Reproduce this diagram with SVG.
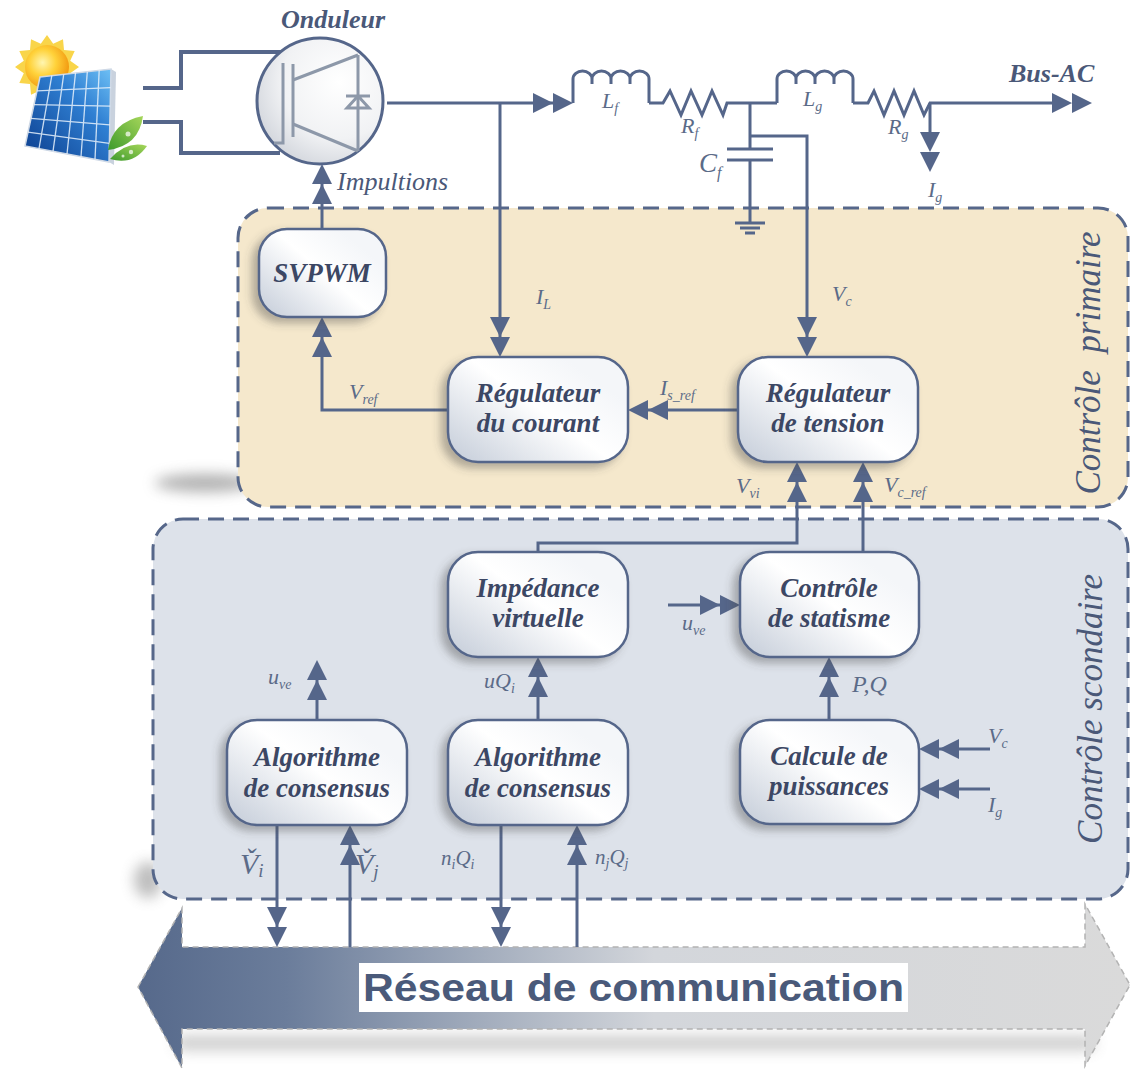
<svg xmlns="http://www.w3.org/2000/svg" width="1132" height="1070" viewBox="0 0 1132 1070">
<defs>
<style>
.zone{stroke:#56678a;stroke-width:3;stroke-dasharray:16 9}
.wire{fill:none;stroke:#55668a;stroke-width:3;stroke-linejoin:miter}
.dc{fill:none;stroke:#55668a;stroke-width:4}
.igbt{fill:none;stroke:#8d98a9;stroke-width:3}
.node rect{fill:url(#nodeFill);stroke:#55668a;stroke-width:2.5;filter:url(#nodeShadow)}
.node text{font-family:'Liberation Serif',serif;font-weight:bold;font-style:italic;font-size:27px;fill:#3c4764;text-anchor:middle}
.head{font-family:'Liberation Serif',serif;font-weight:bold;font-style:italic;font-size:26px;fill:#4a5878}
.imp{font-family:'Liberation Serif',serif;font-style:italic;font-size:26px;fill:#4a5878}
.side{font-family:'Liberation Serif',serif;font-style:italic;font-size:35px;fill:#4a5878;text-anchor:middle;white-space:pre}
.m{font-family:'Liberation Serif',serif;font-style:italic;font-size:22px;fill:#5b6b88}
.s{font-size:14px}
.big{font-size:30px}
.bigs{font-size:19px}
.cf{font-size:27px}
.cfs{font-size:16px}
.pq{font-size:24px}
.nq{font-size:21px}
.ah{fill:#55668a}
.net{font-family:'Liberation Sans',Arial,sans-serif;font-weight:bold;font-size:38px;fill:#4a5a7a}
</style>
<linearGradient id="nodeFill" x1="0" y1="0.85" x2="0.8" y2="0.2">
<stop offset="0" stop-color="#cbd2dd"/>
<stop offset="0.6" stop-color="#ffffff"/>
<stop offset="1" stop-color="#f4f6f9"/>
</linearGradient>
<radialGradient id="invFill" cx="0.65" cy="0.35" r="0.75">
<stop offset="0" stop-color="#ffffff"/>
<stop offset="0.6" stop-color="#f1f2f4"/>
<stop offset="1" stop-color="#cfd3da"/>
</radialGradient>
<linearGradient id="netFill" x1="138" y1="0" x2="1130" y2="0" gradientUnits="userSpaceOnUse">
<stop offset="0" stop-color="#56698b"/>
<stop offset="0.15" stop-color="#6b7d9b"/>
<stop offset="0.35" stop-color="#a3adbd"/>
<stop offset="0.52" stop-color="#d3d6db"/>
<stop offset="1" stop-color="#dadada"/>
</linearGradient>
<radialGradient id="sunFill" cx="0.4" cy="0.4" r="0.6">
<stop offset="0" stop-color="#fff6b0"/>
<stop offset="0.5" stop-color="#ffd23a"/>
<stop offset="1" stop-color="#f39c12"/>
</radialGradient>
<linearGradient id="panelFill" x1="1" y1="0" x2="0" y2="1">
<stop offset="0" stop-color="#6ec0f5"/>
<stop offset="0.35" stop-color="#2f7fd2"/>
<stop offset="1" stop-color="#0b3c8c"/>
</linearGradient>
<linearGradient id="leafFill" x1="0" y1="1" x2="1" y2="0">
<stop offset="0" stop-color="#3d9a2c"/>
<stop offset="1" stop-color="#a6d65a"/>
</linearGradient>
<filter id="nodeShadow" x="-20%" y="-20%" width="140%" height="150%">
<feDropShadow dx="-6" dy="5" stdDeviation="4" flood-color="#4a4a4a" flood-opacity="0.4"/>
</filter>
<filter id="blur8" x="-50%" y="-200%" width="200%" height="500%">
<feGaussianBlur stdDeviation="7"/>
</filter>
<!-- double arrowhead, tip at origin, pointing down -->
<path id="ah2" d="M0,0 L-10,-20 L10,-20 Z M0,-20 L-10,-40 L10,-40 Z"/>
</defs>

<rect width="1132" height="1070" fill="#ffffff"/>

<!-- soft shadows under the control zones and the network bus -->
<ellipse cx="205" cy="483" rx="50" ry="9" fill="#6f6f6f" opacity="0.55" filter="url(#blur8)"/>
<ellipse cx="148" cy="880" rx="14" ry="18" fill="#6f6f6f" opacity="0.45" filter="url(#blur8)"/>
<rect x="175" y="1036" width="920" height="14" rx="7" fill="#8a8a8a" opacity="0.45" filter="url(#blur8)"/>

<!-- control zones -->
<g id="zone-primaire">
<rect class="zone" x="238" y="208" width="890" height="299" rx="30" fill="#f5e8cc"/>
<text class="side" transform="translate(1100,363) rotate(-90)">Contrôle  primaire</text>
</g>
<g id="zone-secondaire">
<rect class="zone" x="153" y="519" width="975" height="380" rx="30" fill="#dde2ea"/>
<text class="side" transform="translate(1102,709) rotate(-90)">Contrôle scondaire</text>
</g>

<!-- communication bus -->
<g id="reseau">
<path d="M138,987 L182,908 L182,947 L1085,947 L1085,904 L1130,985 L1085,1066 L1085,1029 L182,1029 L182,1068 Z" fill="url(#netFill)" stroke="#b3b3b3" stroke-width="1.5" stroke-dasharray="6 4"/>
<rect x="359" y="963" width="549" height="49" fill="#ffffff"/>
<text class="net" x="363" y="1001" textLength="541" lengthAdjust="spacingAndGlyphs">Réseau de communication</text>
</g>

<!-- PV source -->
<g id="pv">
<polygon fill="#f9d54a" points="79,67 70.2,73.2 74.7,83 64,84 63,94.7 53.2,90.2 47,99 40.8,90.2 31,94.7 30,84 19.3,83 23.8,73.2 15,67 23.8,60.8 19.3,51 30,50 31,39.3 40.8,43.8 47,35 53.2,43.8 63,39.3 64,50 74.7,51 70.2,60.8"/>
<circle cx="47" cy="67" r="22" fill="url(#sunFill)"/>
<polygon points="111,69 116,72 114,165 109,162" fill="#c9d2de"/>
<polygon points="40,77 111,69 109,162 25,146" fill="url(#panelFill)" stroke="#cfd9e6" stroke-width="1.5"/>
<g stroke="#e8f2fc" stroke-width="1.3" opacity="0.85">
<line x1="51.8" y1="75.7" x2="39" y2="148.7"/>
<line x1="63.7" y1="74.3" x2="53" y2="151.3"/>
<line x1="75.5" y1="73" x2="67" y2="154"/>
<line x1="87.3" y1="71.7" x2="81" y2="156.7"/>
<line x1="99.2" y1="70.3" x2="95" y2="159.3"/>
<line x1="37" y1="90.8" x2="110.6" y2="87.6"/>
<line x1="34" y1="104.6" x2="110.2" y2="106.2"/>
<line x1="31" y1="118.4" x2="109.8" y2="124.8"/>
<line x1="28" y1="132.2" x2="109.4" y2="143.4"/>
</g>
<path d="M108,150 Q112,122 143,116 Q139,146 108,150 Z" fill="url(#leafFill)"/>
<path d="M110,159 Q127,140 147,146 Q133,166 110,159 Z" fill="url(#leafFill)"/>
<circle cx="128" cy="134" r="2.5" fill="#ffffff" opacity="0.7"/>
<circle cx="131" cy="152" r="2.2" fill="#ffffff" opacity="0.7"/>
<circle cx="123" cy="156" r="1.5" fill="#ffffff" opacity="0.7"/>
</g>

<!-- DC link to the inverter -->
<path class="dc" d="M143,88 H181 V52 H282"/>
<path class="dc" d="M143,122 H181 V153 H280"/>

<!-- inverter -->
<g id="onduleur">
<circle cx="320" cy="101" r="63" fill="url(#invFill)" stroke="#55668a" stroke-width="3"/>
<path class="igbt" d="M283,63 V143 H274"/>
<path class="igbt" d="M293,64 V137"/>
<path class="igbt" d="M293,80 L358,55 M293,124 L358,151 M358,55 V151"/>
<path class="igbt" d="M346,96 H370 M358,96 L347,108 H369 Z" stroke-linejoin="miter"/>
<text class="head" x="333" y="28" text-anchor="middle">Onduleur</text>
<text class="imp" x="337" y="190">Impultions</text>
</g>

<!-- LC filter and AC bus -->
<g id="filtre-lc">
<path class="wire" d="M573,103 V79 a9.5,8 0 0 1 19,0 a9.5,8 0 0 1 19,0 a9.5,8 0 0 1 19,0 a9.5,8 0 0 1 19,0 V103"/>
<path class="wire" d="M592,79 v5 M611,79 v5 M630,79 v5"/>
<path class="wire" d="M649,103 H663 L670,91 L681,115 L691,91 L702,115 L712,91 L723,115 L727,103 H777"/>
<path class="wire" d="M777,103 V79 a9.5,8 0 0 1 19,0 a9.5,8 0 0 1 19,0 a9.5,8 0 0 1 19,0 a9.5,8 0 0 1 19,0 V103"/>
<path class="wire" d="M796,79 v5 M815,79 v5 M834,79 v5"/>
<path class="wire" d="M853,103 H868 L874,91 L884,115 L894,91 L904,115 L914,91 L924,115 L930,103 H1060"/>
<path class="wire" d="M750,103 V149 M727,149 H773 M727,160 H773 M750,160 V223 M735,223 H765 M740,228 H760 M745,233 H755"/>
<text class="head" x="1009" y="82">Bus-AC</text>
</g>

<!-- connectors -->
<g id="connecteurs">
<path class="wire" d="M387,103 H560"/>
<use href="#ah2" class="ah" transform="translate(573,103) rotate(-90)"/>
<use href="#ah2" class="ah" transform="translate(1092,103) rotate(-90)"/>
<path class="wire" d="M930,103 V140"/>
<use href="#ah2" class="ah" transform="translate(930,172)"/>
<path class="wire" d="M500,103 V340"/>
<use href="#ah2" class="ah" transform="translate(500,357)"/>
<path class="wire" d="M750,136 H807 V340"/>
<use href="#ah2" class="ah" transform="translate(807,357)"/>
<path class="wire" d="M738,410 H645"/>
<use href="#ah2" class="ah" transform="translate(628,410) rotate(90)"/>
<path class="wire" d="M448,410 H322 V335"/>
<use href="#ah2" class="ah" transform="translate(322,317) rotate(180)"/>
<path class="wire" d="M322,229 V180"/>
<use href="#ah2" class="ah" transform="translate(322,164) rotate(180)"/>
<path class="wire" d="M538,552 V543 H797 V480"/>
<use href="#ah2" class="ah" transform="translate(797,462) rotate(180)"/>
<path class="wire" d="M863,552 V480"/>
<use href="#ah2" class="ah" transform="translate(863,462) rotate(180)"/>
<path class="wire" d="M668,605 H720"/>
<use href="#ah2" class="ah" transform="translate(740,605) rotate(-90)"/>
<path class="wire" d="M829,720 V675"/>
<use href="#ah2" class="ah" transform="translate(829,657) rotate(180)"/>
<path class="wire" d="M990,749 H935"/>
<use href="#ah2" class="ah" transform="translate(919,749) rotate(90)"/>
<path class="wire" d="M990,789 H935"/>
<use href="#ah2" class="ah" transform="translate(919,789) rotate(90)"/>
<path class="wire" d="M538,720 V675"/>
<use href="#ah2" class="ah" transform="translate(538,657) rotate(180)"/>
<path class="wire" d="M317,720 V680"/>
<use href="#ah2" class="ah" transform="translate(317,660) rotate(180)"/>
<path class="wire" d="M277,825 V930"/>
<use href="#ah2" class="ah" transform="translate(277,947)"/>
<path class="wire" d="M350,947 V845"/>
<use href="#ah2" class="ah" transform="translate(350,825) rotate(180)"/>
<path class="wire" d="M501,825 V930"/>
<use href="#ah2" class="ah" transform="translate(501,947)"/>
<path class="wire" d="M577,947 V845"/>
<use href="#ah2" class="ah" transform="translate(577,825) rotate(180)"/>
</g>

<!-- control blocks -->
<g id="svpwm" class="node">
<rect x="259" y="229" width="127" height="88" rx="28"/>
<text x="322" y="282">SVPWM</text>
</g>
<g id="regulateur-courant" class="node">
<rect x="448" y="357" width="180" height="105" rx="30"/>
<text x="538" y="402">Régulateur</text>
<text x="538" y="432">du courant</text>
</g>
<g id="regulateur-tension" class="node">
<rect x="738" y="357" width="180" height="105" rx="30"/>
<text x="828" y="402">Régulateur</text>
<text x="828" y="432">de tension</text>
</g>
<g id="impedance-virtuelle" class="node">
<rect x="448" y="552" width="180" height="105" rx="30"/>
<text x="538" y="597">Impédance</text>
<text x="538" y="627">virtuelle</text>
</g>
<g id="controle-statisme" class="node">
<rect x="740" y="552" width="179" height="105" rx="30"/>
<text x="829" y="597">Contrôle</text>
<text x="829" y="627">de statisme</text>
</g>
<g id="consensus-tension" class="node">
<rect x="227" y="720" width="180" height="105" rx="30"/>
<text x="317" y="766">Algorithme</text>
<text x="317" y="797">de consensus</text>
</g>
<g id="consensus-reactif" class="node">
<rect x="448" y="720" width="180" height="105" rx="30"/>
<text x="538" y="766">Algorithme</text>
<text x="538" y="797">de consensus</text>
</g>
<g id="calcul-puissances" class="node">
<rect x="740" y="720" width="179" height="104" rx="30"/>
<text x="829" y="765">Calcule de</text>
<text x="829" y="795">puissances</text>
</g>

<!-- signal labels -->
<g id="labels">
<text class="m" x="602" y="108">L<tspan class="s" dy="5">f</tspan></text>
<text class="m" x="681" y="133">R<tspan class="s" dy="5">f</tspan></text>
<text class="m cf" x="699" y="172">C<tspan class="cfs" dy="6">f</tspan></text>
<text class="m" x="803" y="106">L<tspan class="s" dy="5">g</tspan></text>
<text class="m" x="888" y="134">R<tspan class="s" dy="5">g</tspan></text>
<text class="m" x="928" y="197">I<tspan class="s" dy="5">g</tspan></text>
<text class="m" x="536" y="304">I<tspan class="s" dy="5">L</tspan></text>
<text class="m" x="832" y="301">V<tspan class="s" dy="5">c</tspan></text>
<text class="m" x="349" y="399">V<tspan class="s" dy="5">ref</tspan></text>
<text class="m" x="660" y="395">I<tspan class="s" dy="5">s_ref</tspan></text>
<text class="m" x="736" y="493">V<tspan class="s" dy="5">vi</tspan></text>
<text class="m" x="884" y="492">V<tspan class="s" dy="5">c_ref</tspan></text>
<text class="m" x="682" y="630">u<tspan class="s" dy="5">ve</tspan></text>
<text class="m pq" x="852" y="692">P,Q</text>
<text class="m" x="988" y="743">V<tspan class="s" dy="5">c</tspan></text>
<text class="m" x="988" y="812">I<tspan class="s" dy="5">g</tspan></text>
<text class="m" x="268" y="684">u<tspan class="s" dy="5">ve</tspan></text>
<text class="m" x="484" y="688">uQ<tspan class="s" dy="5">i</tspan></text>
<text class="m big" x="240" y="874">V&#x30C;<tspan class="bigs" dy="3">i</tspan></text>
<text class="m big" x="355" y="874">V&#x30C;<tspan class="bigs" dy="4">j</tspan></text>
<text class="m nq" x="441" y="865">n<tspan class="s" dy="4">i</tspan><tspan dy="-4">Q</tspan><tspan class="s" dy="4">i</tspan></text>
<text class="m nq" x="595" y="864">n<tspan class="s" dy="4">j</tspan><tspan dy="-4">Q</tspan><tspan class="s" dy="4">j</tspan></text>
</g>
</svg>
